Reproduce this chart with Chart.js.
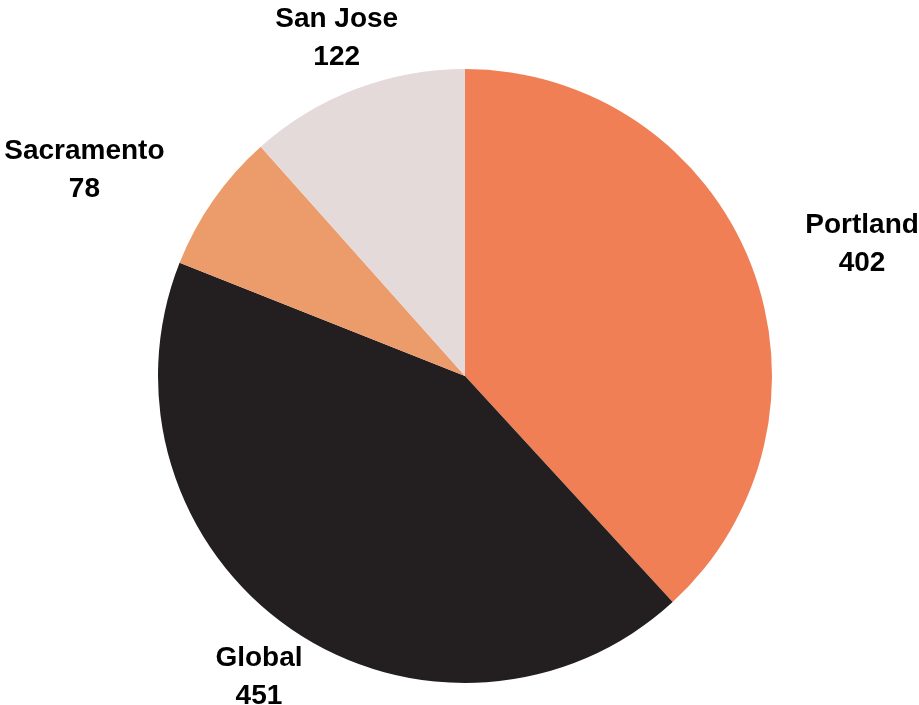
<!DOCTYPE html>
<html>
<head>
<meta charset="utf-8">
<script src="https://cdn.jsdelivr.net/npm/chart.js@4/dist/chart.umd.min.js"></script>
<style>
  html, body { margin: 0; padding: 0; background: #fff; }
  canvas { display: block; }
</style>
</head>
<body>
<canvas id="pieChart" width="919" height="705"></canvas>
<script>
const cities = ['Portland', 'Global', 'Sacramento', 'San Jose'];
const counts = [402, 451, 78, 122];
const sliceColors = ['#F07F56', '#231F20', '#EC9B6A', '#E5DADA'];

// label nudges from the slice's outer edge point, in px
const labelNudges = [[111, -23], [-32, 45], [-129, -33], [-19, -54]];

const outsideLabels = {
    id: 'outsideLabels',
    afterDatasetsDraw(chart) {
        const ctx = chart.ctx;
        const meta = chart.getDatasetMeta(0);
        ctx.save();
        ctx.fillStyle = '#000';
        ctx.font = 'bold 28px "Liberation Sans", Arial, sans-serif';
        ctx.textAlign = 'center';
        ctx.textBaseline = 'middle';
        meta.data.forEach((arc, i) => {
            const mid = (arc.startAngle + arc.endAngle) / 2;
            const ex = arc.x + Math.cos(mid) * arc.outerRadius;
            const ey = arc.y + Math.sin(mid) * arc.outerRadius;
            const x = ex + labelNudges[i][0];
            const y = ey + labelNudges[i][1];
            ctx.fillText(cities[i], x, y - 16);
            ctx.fillText(String(counts[i]), x, y + 22);
        });
        ctx.restore();
    }
};

new Chart(document.getElementById('pieChart'), {
    type: 'pie',
    data: {
        labels: cities,
        datasets: [{
            data: counts,
            backgroundColor: sliceColors,
            borderWidth: 0
        }]
    },
    options: {
        responsive: false,
        animation: false,
        layout: {
            padding: { top: 69, bottom: 22, left: 158, right: 147 }
        },
        plugins: {
            legend: { display: false },
            tooltip: { enabled: false }
        }
    },
    plugins: [outsideLabels]
});
</script>
</body>
</html>
